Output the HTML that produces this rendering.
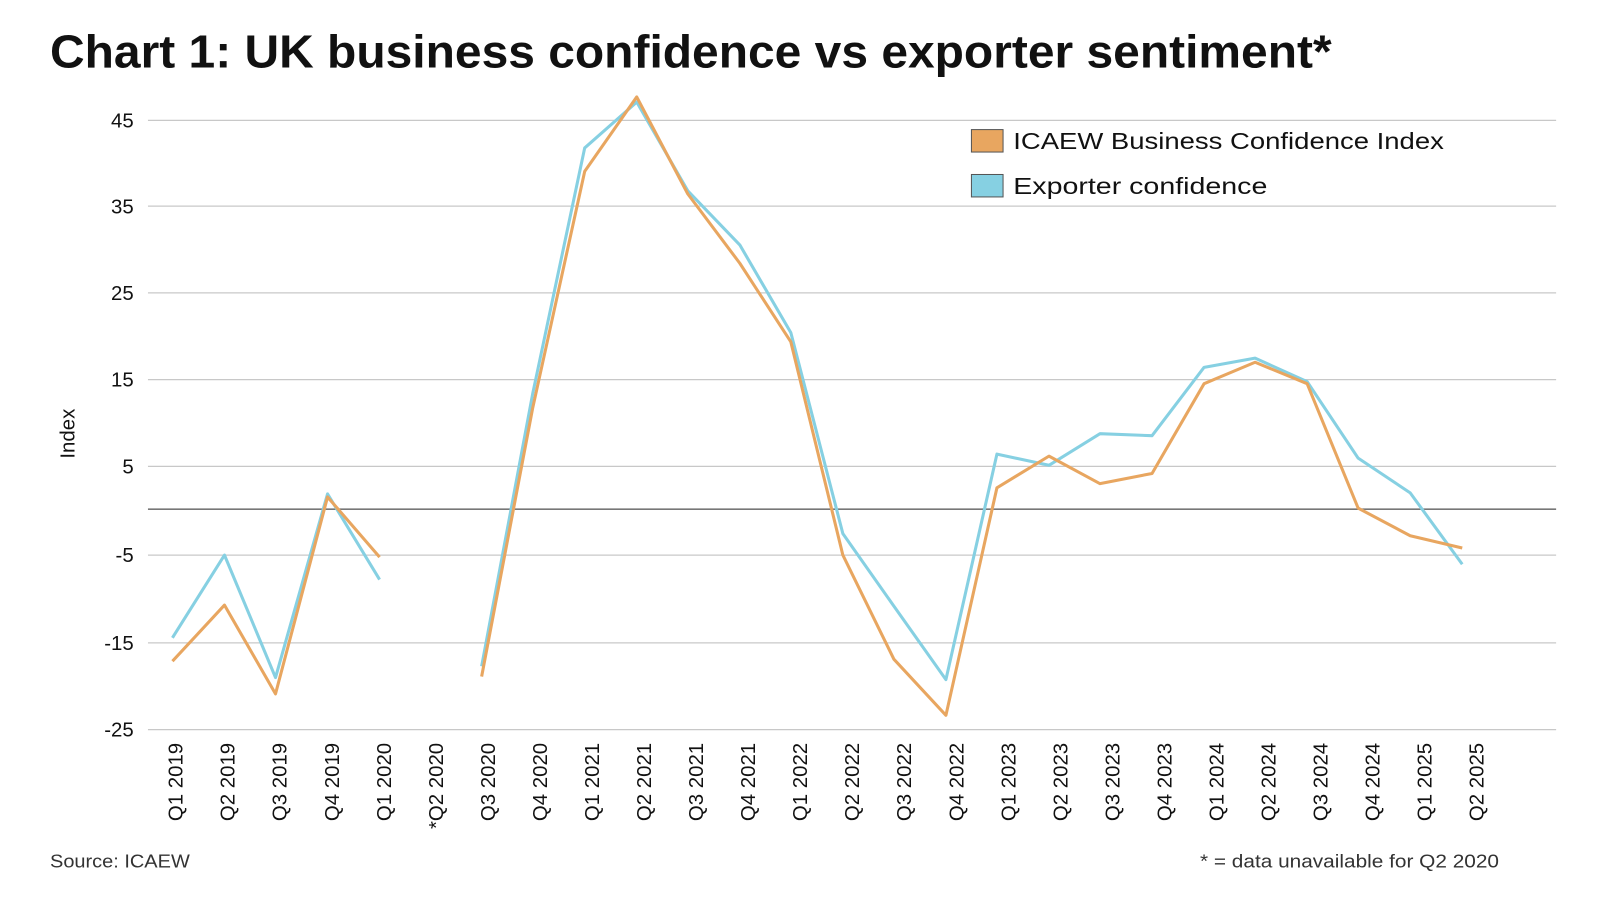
<!DOCTYPE html>
<html><head><meta charset="utf-8"><style>
html,body{margin:0;padding:0;background:#fff;}
svg{display:block;}
</style></head><body>
<svg width="1600" height="900" viewBox="0 0 1568 882" preserveAspectRatio="none" xmlns="http://www.w3.org/2000/svg" font-family="Liberation Sans, sans-serif">
<rect width="1568" height="882" fill="#fff"/>
<text x="49" y="66" font-size="45" font-weight="bold" fill="#111" textLength="1256" lengthAdjust="spacingAndGlyphs">Chart 1: UK business confidence vs exporter sentiment*</text>
<g stroke="#c8c8c8" stroke-width="1.2">
<line x1="145" x2="1525" y1="118" y2="118"/>
<line x1="145" x2="1525" y1="202" y2="202"/>
<line x1="145" x2="1525" y1="287" y2="287"/>
<line x1="145" x2="1525" y1="372" y2="372"/>
<line x1="145" x2="1525" y1="457" y2="457"/>
<line x1="145" x2="1525" y1="544" y2="544"/>
<line x1="145" x2="1525" y1="630" y2="630"/>
<line x1="145" x2="1525" y1="715" y2="715"/>
</g>
<line x1="145" x2="1525" y1="499" y2="499" stroke="#777" stroke-width="1.5"/>
<g font-size="20" fill="#111" text-anchor="end">
<text x="131" y="125">45</text><text x="131" y="209">35</text><text x="131" y="294">25</text>
<text x="131" y="379">15</text><text x="131" y="464">5</text><text x="131" y="551">-5</text>
<text x="131" y="637">-15</text><text x="131" y="722">-25</text>
</g>
<text transform="translate(73,425) rotate(-90)" font-size="20" text-anchor="middle" fill="#111">Index</text>
<g font-size="20" fill="#111" text-anchor="end">
<text transform="translate(179,728) rotate(-90)">Q1 2019</text>
<text transform="translate(230,728) rotate(-90)">Q2 2019</text>
<text transform="translate(281,728) rotate(-90)">Q3 2019</text>
<text transform="translate(332,728) rotate(-90)">Q4 2019</text>
<text transform="translate(383,728) rotate(-90)">Q1 2020</text>
<text transform="translate(434,728) rotate(-90)">*Q2 2020</text>
<text transform="translate(485,728) rotate(-90)">Q3 2020</text>
<text transform="translate(536,728) rotate(-90)">Q4 2020</text>
<text transform="translate(587,728) rotate(-90)">Q1 2021</text>
<text transform="translate(638,728) rotate(-90)">Q2 2021</text>
<text transform="translate(689,728) rotate(-90)">Q3 2021</text>
<text transform="translate(740,728) rotate(-90)">Q4 2021</text>
<text transform="translate(791,728) rotate(-90)">Q1 2022</text>
<text transform="translate(842,728) rotate(-90)">Q2 2022</text>
<text transform="translate(893,728) rotate(-90)">Q3 2022</text>
<text transform="translate(944,728) rotate(-90)">Q4 2022</text>
<text transform="translate(995,728) rotate(-90)">Q1 2023</text>
<text transform="translate(1046,728) rotate(-90)">Q2 2023</text>
<text transform="translate(1097,728) rotate(-90)">Q3 2023</text>
<text transform="translate(1148,728) rotate(-90)">Q4 2023</text>
<text transform="translate(1199,728) rotate(-90)">Q1 2024</text>
<text transform="translate(1250,728) rotate(-90)">Q2 2024</text>
<text transform="translate(1301,728) rotate(-90)">Q3 2024</text>
<text transform="translate(1352,728) rotate(-90)">Q4 2024</text>
<text transform="translate(1403,728) rotate(-90)">Q1 2025</text>
<text transform="translate(1454,728) rotate(-90)">Q2 2025</text>
</g>
<g fill="none" stroke-width="3" stroke-linejoin="round">
<polyline stroke="#86D0E2" points="169,625 220,544 270,664 321,484 372,568"/>
<polyline stroke="#86D0E2" points="472,653 522,386 573,145 624,100 674,187 725,240 775,326 826,523 876,594 927,666 977,445 1028,456 1078,425 1129,427 1180,360 1230,351 1281,374 1331,449 1382,483 1433,553"/>
<polyline stroke="#E8A660" points="169,648 220,593 270,680 321,487 372,546"/>
<polyline stroke="#E8A660" points="472,663 522,400 573,168 624,95 674,190 725,258 775,335 826,544 876,646 927,701 977,478 1028,447 1078,474 1129,464 1180,376 1230,355 1281,376 1331,498 1382,525 1433,537"/>
</g>
<rect x="952" y="127" width="31" height="22" fill="#E8A660" stroke="#555" stroke-width="1"/>
<text x="993" y="146" font-size="23" fill="#111" textLength="422" lengthAdjust="spacingAndGlyphs">ICAEW Business Confidence Index</text>
<rect x="952" y="171" width="31" height="22" fill="#86D0E2" stroke="#555" stroke-width="1"/>
<text x="993" y="190" font-size="23" fill="#111" textLength="249" lengthAdjust="spacingAndGlyphs">Exporter confidence</text>
<text x="49" y="850" font-size="18" fill="#333" textLength="137" lengthAdjust="spacingAndGlyphs">Source: ICAEW</text>
<text x="1176" y="850" font-size="18" fill="#333" textLength="293" lengthAdjust="spacingAndGlyphs">* = data unavailable for Q2 2020</text>
</svg>
</body></html>
